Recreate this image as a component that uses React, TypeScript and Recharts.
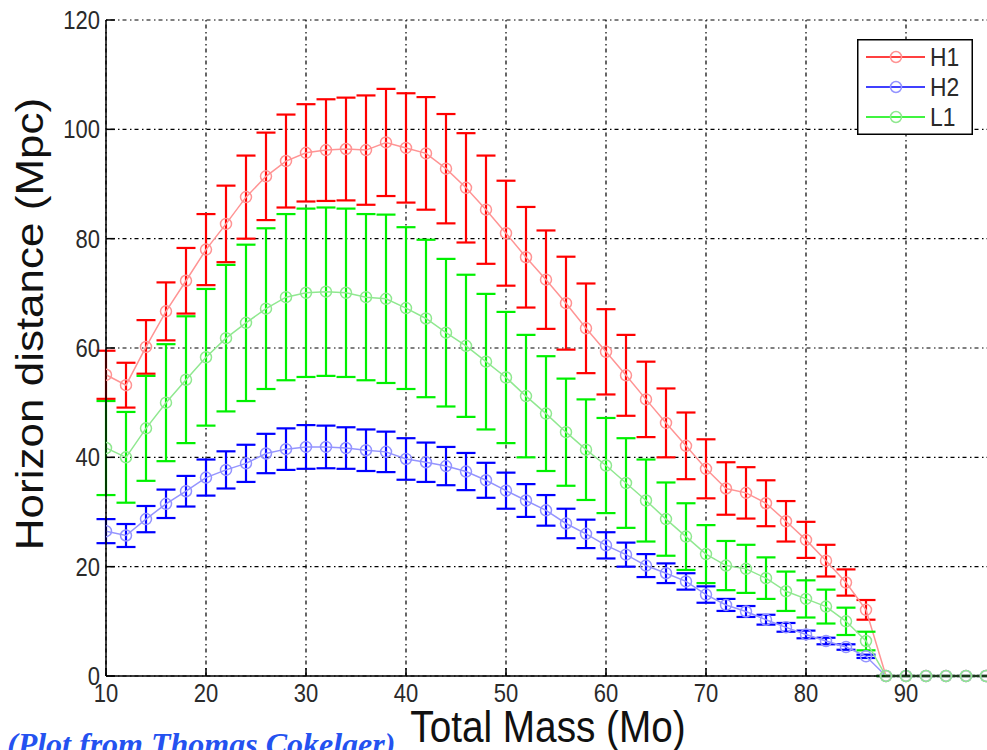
import React from "react";
import {
  ComposedChart,
  Line,
  ErrorBar,
  XAxis,
  YAxis,
  CartesianGrid,
  Legend,
} from "recharts";

// total mass (solar masses), sampled every 2
const mass = [
  10, 12, 14, 16, 18, 20, 22, 24, 26, 28, 30, 32, 34, 36, 38, 40, 42, 44, 46, 48,
  50, 52, 54, 56, 58, 60, 62, 64, 66, 68, 70, 72, 74, 76, 78, 80, 82, 84, 86,
  88, 90, 92, 94, 96, 98, 100,
];

// horizon distance (Mpc) and 1-sigma spread per detector
const h1 = [
  55.1, 53.2, 60.2, 66.7, 72.3, 78.0, 82.7, 87.6, 91.4, 94.2, 95.7, 96.2, 96.4, 96.2, 97.6, 96.6,
  95.6, 92.8, 89.3, 85.3, 81.0, 76.6, 72.5, 68.2, 63.6, 59.3, 55.0, 50.6, 46.3, 42.1, 37.9, 34.3,
  33.5, 31.6, 28.3, 24.9, 21.1, 17.1, 12.1, 0, 0, 0, 0, 0, 0, 0,
];
const h1Err = [
  4.4, 4.1, 4.9, 5.3, 6.0, 6.5, 7.0, 7.6, 8.0, 8.5, 8.9, 9.3, 9.4, 10.0, 9.8, 10.0,
  10.3, 10.0, 10.0, 9.9, 9.6, 9.2, 9.0, 8.5, 8.2, 7.8, 7.4, 6.9, 6.3, 6.1, 5.4, 4.8,
  4.7, 4.2, 3.7, 3.3, 2.9, 2.4, 1.8, 0, 0, 0, 0, 0, 0, 0,
];

const h2 = [
  26.5, 25.7, 28.7, 31.5, 33.8, 36.3, 37.7, 38.9, 40.7, 41.5, 41.9, 41.9, 41.7, 41.3, 41.0, 39.7,
  39.1, 38.4, 37.4, 35.8, 33.9, 32.1, 30.3, 27.9, 26.0, 23.9, 22.2, 20.2, 18.8, 17.3, 14.9, 13.0,
  11.8, 10.3, 8.9, 7.6, 6.4, 5.3, 3.6, 0, 0, 0, 0, 0, 0, 0,
];
const h2Err = [
  2.2, 2.1, 2.4, 2.6, 2.8, 3.3, 3.4, 3.4, 3.6, 3.8, 4.0, 3.9, 3.8, 3.8, 3.7, 3.8,
  3.6, 3.5, 3.4, 3.2, 3.3, 3.0, 2.8, 2.7, 2.6, 2.4, 2.2, 2.1, 1.8, 1.5, 1.5, 1.1,
  1.0, 0.9, 0.8, 0.7, 0.6, 0.5, 0.3, 0, 0, 0, 0, 0, 0, 0,
];

const l1 = [
  41.7, 40.0, 45.3, 50.0, 54.2, 58.3, 61.8, 64.6, 67.2, 69.3, 70.1, 70.3, 70.1, 69.3, 69.0, 67.3,
  65.4, 62.8, 60.4, 57.5, 54.6, 51.2, 48.0, 44.6, 41.4, 38.5, 35.3, 32.1, 28.7, 25.5, 22.3, 20.2,
  19.6, 17.9, 15.5, 14.1, 12.7, 10.0, 6.4, 0, 0, 0, 0, 0, 0, 0,
];
const l1Err = [
  8.6, 8.3, 9.6, 10.7, 11.6, 12.5, 13.4, 14.3, 14.7, 15.2, 15.4, 15.4, 15.4, 15.2, 15.4, 14.8,
  14.4, 13.5, 13.0, 12.4, 12.0, 11.2, 10.5, 9.8, 9.2, 8.7, 8.2, 7.5, 6.7, 6.1, 5.3, 4.5,
  4.4, 3.8, 3.6, 3.4, 3.1, 2.5, 1.7, 0, 0, 0, 0, 0, 0, 0,
];

const xTicks = [10, 20, 30, 40, 50, 60, 70, 80, 90, 100];
const xLabelled = [10, 20, 30, 40, 50, 60, 70, 80, 90];
const yTicks = [0, 20, 40, 60, 80, 100, 120];

const series = [
  { key: "h1", name: "H1", bar: "#ff0000", faint: "#ff9494" },
  { key: "h2", name: "H2", bar: "#0000ff", faint: "#9494ff" },
  { key: "l1", name: "L1", bar: "#00f000", faint: "#90e890" },
];

const data = mass.map((m, i) => ({
  mass: m,
  h1: h1[i],
  h1Err: [h1Err[i], h1Err[i]],
  h2: h2[i],
  h2Err: [h2Err[i], h2Err[i]],
  l1: l1[i],
  l1Err: [l1Err[i], l1Err[i]],
}));

const FONT = '"Liberation Sans", Arial, sans-serif';
const SQUEEZE = 0.88;

function XTick({ x, y, payload }: any) {
  return (
    <g>
      <line x1={x} x2={x} y1={y} y2={y - 8} stroke="#000" strokeWidth={1.5} />
      {xLabelled.includes(payload.value) && (
        <text
          transform={`translate(${x} ${y + 26}) scale(${SQUEEZE} 1)`}
          textAnchor="middle"
          fontFamily={FONT}
          fontSize={25}
          fill="#2a2a2a"
        >
          {payload.value}
        </text>
      )}
    </g>
  );
}

function YTick({ x, y, payload }: any) {
  return (
    <g>
      <line x1={x} x2={x + 9} y1={y} y2={y} stroke="#000" strokeWidth={1.5} />
      <text
        transform={`translate(${x - 6} ${y + 9}) scale(${SQUEEZE} 1)`}
        textAnchor="end"
        fontFamily={FONT}
        fontSize={25}
        fill="#2a2a2a"
      >
        {payload.value}
      </text>
    </g>
  );
}

function LegendBox() {
  return (
    <svg width={116} height={96} style={{ display: "block" }}>
      <rect x={0.75} y={0.75} width={114.5} height={94.5} fill="#fff" stroke="#000" strokeWidth={1.5} />
      {series.map((s, i) => {
        const cy = 18 + i * 30;
        return (
          <g key={s.key}>
            <line x1={9} x2={68} y1={cy} y2={cy} stroke={s.bar} strokeWidth={1.5} />
            <circle cx={39} cy={cy} r={5.5} fill="none" stroke={s.faint} strokeWidth={1.5} />
            <text
              transform={`translate(73 ${cy + 9}) scale(${SQUEEZE} 1)`}
              fontFamily={FONT}
              fontSize={26}
              fill="#2a2a2a"
            >
              {s.name}
            </text>
          </g>
        );
      })}
    </svg>
  );
}

export default function App() {
  return (
    <div
      style={{
        position: "absolute",
        left: 0,
        top: 0,
        width: 987,
        height: 750,
        overflow: "hidden",
        background: "#fff",
      }}
    >
      <ComposedChart
        width={1030}
        height={760}
        data={data}
        margin={{ top: 20, right: 24, left: 46, bottom: 54 }}
      >
        <CartesianGrid
          stroke="#000"
          strokeWidth={1.2}
          strokeDasharray="1.5 3 4 3.5"
          horizontalValues={yTicks}
          verticalValues={xTicks}
        />
        <XAxis
          dataKey="mass"
          type="number"
          domain={[10, 100]}
          ticks={xTicks}
          interval={0}
          tickLine={false}
          tickSize={0}
          tickMargin={0}
          height={30}
          axisLine={{ stroke: "#000", strokeWidth: 1.5 }}
          tick={<XTick />}
          allowDataOverflow
        />
        <YAxis
          type="number"
          domain={[0, 120]}
          ticks={yTicks}
          interval={0}
          tickLine={false}
          tickSize={0}
          tickMargin={0}
          width={60}
          axisLine={{ stroke: "#000", strokeWidth: 1.5 }}
          tick={<YTick />}
        />
        <Legend
          layout="horizontal"
          verticalAlign="middle"
          align="center"
          content={() => <LegendBox />}
          wrapperStyle={{ top: 39, left: 857, width: 116, height: 96 }}
        />
        {series.map((s) => (
          <Line
            key={s.key}
            dataKey={s.key}
            name={s.name}
            type="linear"
            stroke={s.faint}
            strokeWidth={1.5}
            dot={{ r: 5.5, fill: "none", stroke: s.faint, strokeWidth: 1.5 }}
            activeDot={false}
            isAnimationActive={false}
          >
            <ErrorBar
              dataKey={`${s.key}Err`}
              direction="y"
              width={9.5}
              stroke={s.bar}
              strokeWidth={2.2}
              isAnimationActive={false}
            />
          </Line>
        ))}
      </ComposedChart>
      <svg
        width={987}
        height={750}
        style={{ position: "absolute", left: 0, top: 0, pointerEvents: "none" }}
      >
        <text
          transform={`translate(43 324) scale(${SQUEEZE} 1) rotate(-90)`}
          textAnchor="middle"
          fontFamily={FONT}
          fontSize={44}
          fill="#111"
        >
          Horizon distance (Mpc)
        </text>
        <text
          transform={`translate(548 742) scale(${SQUEEZE} 1)`}
          textAnchor="middle"
          fontFamily={FONT}
          fontSize={44}
          fill="#111"
        >
          Total Mass (Mo)
        </text>
        <text
          transform="translate(7 755)"
          fontFamily='"Liberation Serif", "Times New Roman", serif'
          fontStyle="italic"
          fontWeight="bold"
          fontSize={32}
          fill="#2452f0"
        >
          (Plot from Thomas Cokelaer)
        </text>
      </svg>
    </div>
  );
}
